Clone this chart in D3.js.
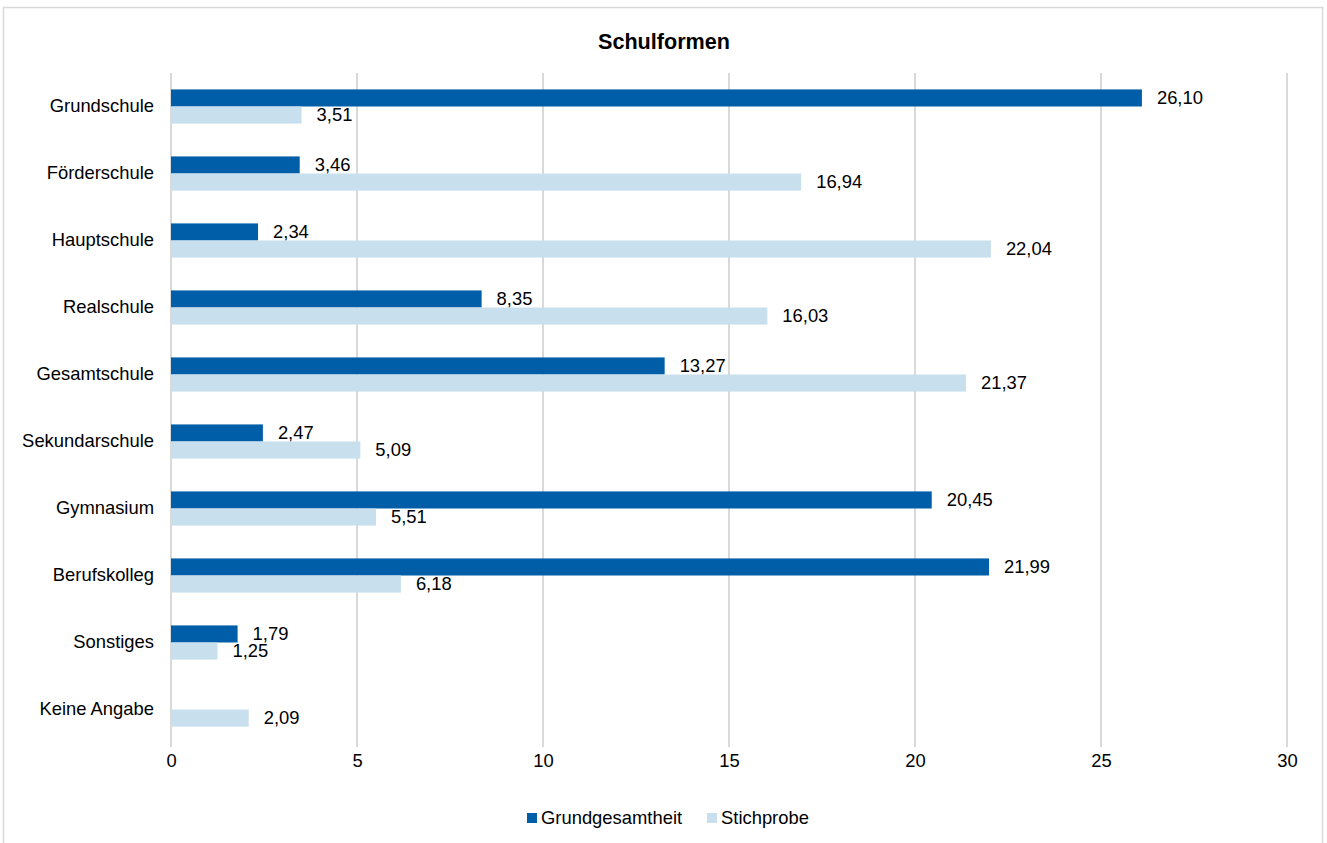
<!DOCTYPE html>
<html>
<head>
<meta charset="utf-8">
<script src="https://cdn.jsdelivr.net/npm/d3@7"></script>
<style>
  html, body { margin: 0; padding: 0; background: #fff; }
  svg { display: block; font-family: "Liberation Sans", Arial, sans-serif; }
</style>
</head>
<body>
<svg id="chart" width="1327" height="843"></svg>
<script>
// Schulformen: Anteile in Prozent
const categories = ["Grundschule", "Förderschule", "Hauptschule", "Realschule", "Gesamtschule",
  "Sekundarschule", "Gymnasium", "Berufskolleg", "Sonstiges", "Keine Angabe"];
const seriesNames = ["Grundgesamtheit", "Stichprobe"];
const grundgesamtheit = [26.10, 3.46, 2.34, 8.35, 13.27, 2.47, 20.45, 21.99, 1.79, null];
const stichprobe = [3.51, 16.94, 22.04, 16.03, 21.37, 5.09, 5.51, 6.18, 1.25, 2.09];
const xTicks = [0, 5, 10, 15, 20, 25, 30];
const colors = ["#005ea8", "#c8dfee"];

const svg = d3.select("#chart");
const W = 1327, H = 843;
const FONT = "'Liberation Sans', Arial, sans-serif";
const FS = 18.4;

// outer frame
svg.append("rect").attr("x", 3.5).attr("y", 7.5).attr("width", W - 8).attr("height", H)
  .attr("fill", "#fff").attr("stroke", "#d9d9d9").attr("stroke-width", 1.5);

const plot = { left: 171, right: 1287, top: 73, bottom: 743 };

const x = d3.scaleLinear().domain([0, 30]).range([plot.left, plot.right]);
const y = d3.scaleBand().domain(categories).range([plot.top, plot.bottom]).paddingInner(0.49).paddingOuter(0.245);
const ySub = d3.scaleBand().domain(seriesNames).range([0, y.bandwidth()]);

// title
svg.append("text").attr("x", 664).attr("y", 49).attr("text-anchor", "middle")
  .attr("font-size", 21.6).attr("font-weight", "bold").attr("fill", "#000").text("Schulformen");

// vertical gridlines
svg.append("g").selectAll("line").data(xTicks).join("line")
  .attr("x1", d => x(d)).attr("x2", d => x(d))
  .attr("y1", plot.top).attr("y2", plot.bottom + 4)
  .attr("stroke", "#d9d9d9").attr("stroke-width", 2);

// x axis tick labels
const xAxis = d3.axisBottom(x).tickValues(xTicks).tickSize(0).tickPadding(11).tickFormat(d3.format("d"));
const gx = svg.append("g").attr("transform", `translate(0,${plot.bottom})`).call(xAxis);
gx.select(".domain").remove();
gx.selectAll("text").attr("font-size", FS).attr("fill", "#000").attr("font-family", FONT);

// y axis category labels
const yAxis = d3.axisLeft(y).tickSize(0).tickPadding(17);
const gy = svg.append("g").attr("transform", `translate(${plot.left},0)`).call(yAxis);
gy.select(".domain").remove();
gy.selectAll("text").attr("font-size", FS).attr("fill", "#000").attr("font-family", FONT);

const fmt = v => v.toFixed(2).replace(".", ",");
const series = [grundgesamtheit, stichprobe];

series.forEach((vals, si) => {
  const rows = categories.map((c, i) => ({ c, v: vals[i] })).filter(d => d.v != null);
  const g = svg.append("g");
  g.selectAll("rect").data(rows).join("rect")
    .attr("x", x(0))
    .attr("y", d => y(d.c) + ySub(seriesNames[si]))
    .attr("width", d => x(d.v) - x(0))
    .attr("height", ySub.bandwidth())
    .attr("fill", colors[si]);
  g.selectAll("text").data(rows).join("text")
    .attr("x", d => x(d.v) + 15)
    .attr("y", d => y(d.c) + ySub(seriesNames[si]) + ySub.bandwidth() / 2)
    .attr("dy", "0.35em")
    .attr("font-size", FS).attr("fill", "#000")
    .text(d => fmt(d.v));
});

// legend
const legend = svg.append("g");
const legendItems = [{ name: seriesNames[0], x: 527 }, { name: seriesNames[1], x: 707 }];
legendItems.forEach((d, i) => {
  legend.append("rect").attr("x", d.x).attr("y", 813).attr("width", 10).attr("height", 10).attr("fill", colors[i]);
  legend.append("text").attr("x", d.x + 14).attr("y", 818).attr("dy", "0.35em")
    .attr("font-size", FS).attr("fill", "#000").text(d.name);
});
</script>
</body>
</html>
